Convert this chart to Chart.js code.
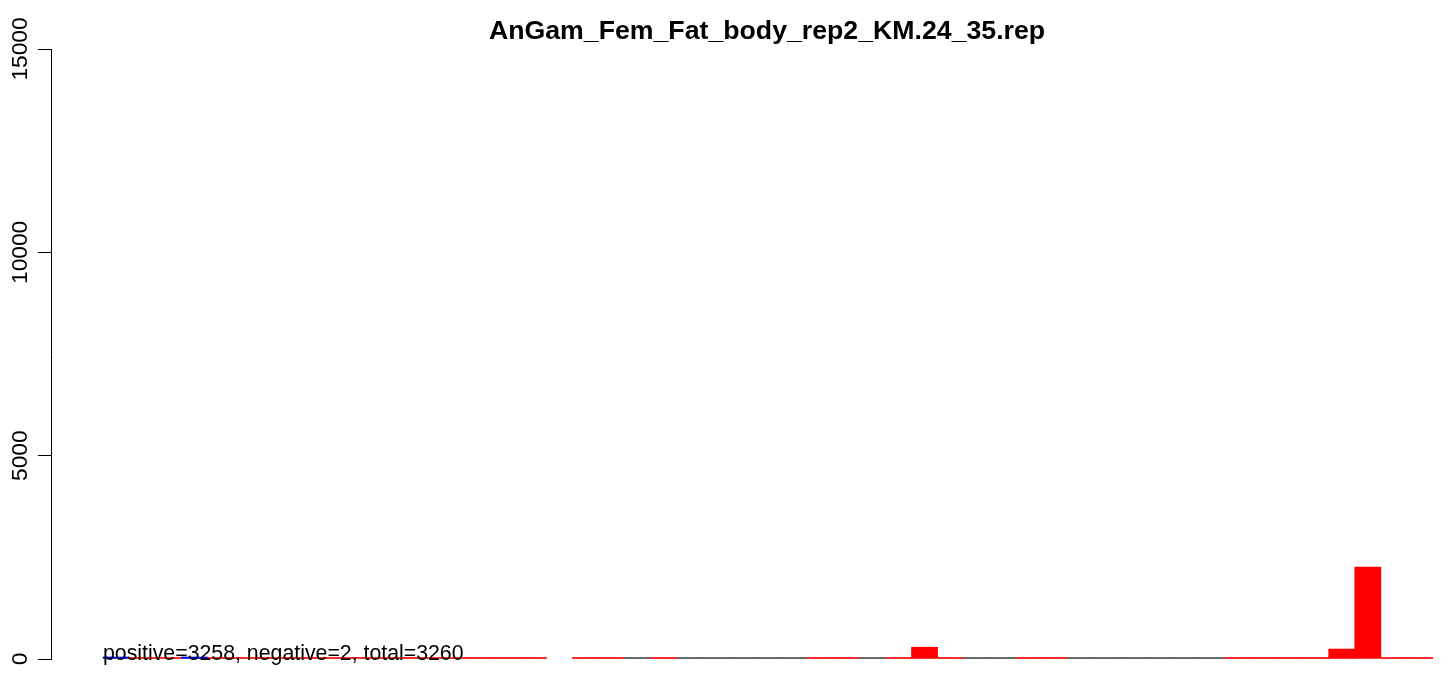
<!DOCTYPE html>
<html>
<head>
<meta charset="utf-8">
<title>AnGam_Fem_Fat_body_rep2_KM.24_35.rep</title>
<script src="https://cdn.jsdelivr.net/npm/chart.js@4.4.0/dist/chart.umd.min.js"></script>
<style>
  body { margin: 0; background: #fff; }
  #wrap { width: 1452px; height: 676px; }
</style>
</head>
<body>
<div id="wrap"><canvas id="chart" width="1452" height="676"></canvas></div>
<script>
// two empty slots on the left, then 51 offsets
const offsets = ['', ''].concat(Array.from({ length: 51 }, (_, i) => String(i - 25)));

// read counts per offset (null = nothing drawn in that colour)
const positive = [
  null, 14, 12, null, 16, 18, 13, 15, 17, 14, 12, 16, 13, 15, 14,
  18, 16, null, 15, 13, null, 17, null, null, null, null, null, 16, 14, null,
  19, 290, 15, null, null, 17, 30, null, null, null, null, null, null, 13, 12,
  14, 16, 245, 2263, 14, 12
];
const negative = [
  0, null, null, 0, null, null, null, null, null, null, null, null, null, null, null,
  null, null, -1, null, null, null, null, null, null, null, null, null, null, null, null,
  null, null, null, null, null, null, null, null, null, null, null, null, null, null, null,
  null, null, -1, null, null, null
];
// offsets with no reads at all
const empty = [
  null, null, null, null, null, null, null, null, null, null, null, null, null, null, null,
  null, null, null, null, null, 0, null, 0, 0, 0, 0, 0, null, null, 0,
  null, null, null, 0, 0, null, null, 0, 0, 0, 0, 0, 0, null, null,
  null, null, null, null, null, null
];
const yTicks = [0, 5000, 10000, 15000];

const pad = arr => [null, null].concat(arr);
const sum = arr => arr.reduce((a, v) => a + (v ? Math.abs(v) : 0), 0);
const posTotal = sum(positive), negTotal = sum(negative);
const note = 'positive=' + posTotal + ', negative=' + negTotal + ', total=' + (posTotal + negTotal);
const FONT = '"Liberation Sans", Helvetica, Arial, sans-serif';

// title, y tick labels and the count note, R style
const textPlugin = {
  id: 'rtext',
  afterDraw(chart) {
    const ctx = chart.ctx, y = chart.scales.y;
    ctx.save();
    ctx.fillStyle = '#000';
    ctx.font = 'bold 26.7px ' + FONT;
    ctx.textAlign = 'center';
    ctx.textBaseline = 'alphabetic';
    ctx.fillText('AnGam_Fem_Fat_body_rep2_KM.24_35.rep', 767, 39);

    ctx.font = '22.7px ' + FONT;
    yTicks.forEach(v => {
      ctx.save();
      ctx.translate(27, y.getPixelForValue(v));
      ctx.rotate(-Math.PI / 2);
      ctx.fillText(String(v), 0, 0);
      ctx.restore();
    });

    ctx.font = '21.3px ' + FONT;
    ctx.textAlign = 'left';
    ctx.fillText(note, 103, 660);
    ctx.restore();
  }
};

new Chart(document.getElementById('chart'), {
  type: 'bar',
  data: {
    labels: offsets,
    datasets: [
      { label: 'empty', data: pad(empty), backgroundColor: '#4d4d4d', minBarLength: 1.5 },
      { label: 'positive', data: pad(positive), backgroundColor: '#ff0000', minBarLength: 1.5 },
      { label: 'negative', data: pad(negative), backgroundColor: '#0000ff', minBarLength: 2 }
    ]
  },
  options: {
    responsive: false,
    devicePixelRatio: 1,
    animation: false,
    layout: { padding: { left: 0, right: 19, top: 49, bottom: 17 } },
    datasets: { bar: { categoryPercentage: 1, barPercentage: 1, borderWidth: 0 } },
    plugins: { legend: { display: false }, title: { display: false }, tooltip: { enabled: false } },
    scales: {
      x: { display: false, stacked: true },
      y: {
        stacked: true,
        min: 0,
        max: 15000,
        ticks: { display: false, stepSize: 5000 },
        grid: { drawOnChartArea: false, drawTicks: true, tickLength: 13, color: '#000', lineWidth: 1 },
        border: { color: '#000', width: 1 },
        afterFit(s) { s.width = 51; }
      }
    }
  },
  plugins: [textPlugin]
});
</script>
</body>
</html>
